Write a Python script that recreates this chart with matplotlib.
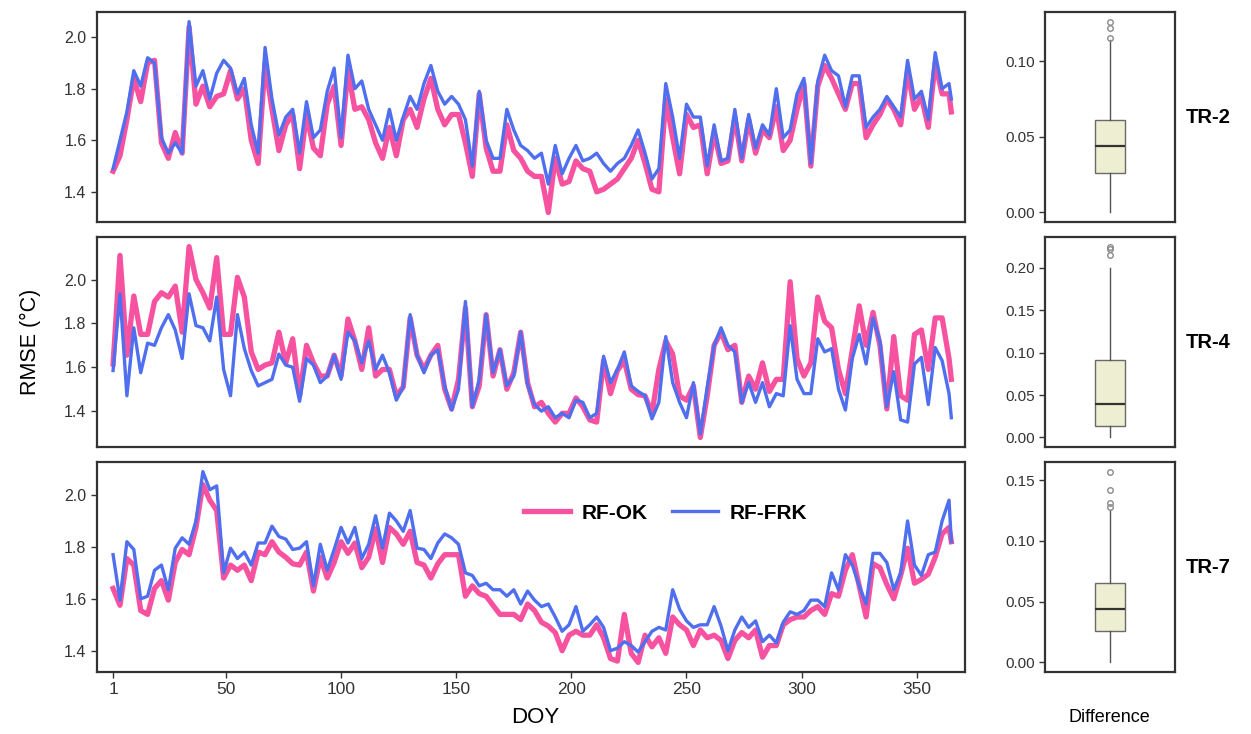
import matplotlib
matplotlib.use("Agg")
import matplotlib.pyplot as plt
import matplotlib.ticker as mtick

plt.rcParams['font.family'] = ['Liberation Sans', 'DejaVu Sans']

# day of year (read every third day off the figure)
doy = list(range(1, 365, 3)) + [365]

tr2_frk = [1.49, 1.60, 1.71, 1.87, 1.81, 1.92, 1.90, 1.61, 1.55, 1.59,
           1.55, 2.06, 1.81, 1.87, 1.76, 1.86, 1.91, 1.88, 1.78, 1.84,
           1.66, 1.55, 1.96, 1.76, 1.62, 1.69, 1.72, 1.55, 1.75, 1.61,
           1.64, 1.79, 1.88, 1.61, 1.93, 1.80, 1.83, 1.72, 1.66, 1.60,
           1.72, 1.60, 1.69, 1.77, 1.72, 1.82, 1.89, 1.79, 1.74, 1.77,
           1.74, 1.68, 1.50, 1.79, 1.60, 1.53, 1.53, 1.72, 1.64, 1.58,
           1.56, 1.53, 1.55, 1.43, 1.58, 1.47, 1.53, 1.58, 1.52, 1.53,
           1.55, 1.51, 1.48, 1.51, 1.53, 1.58, 1.64, 1.55, 1.45, 1.49,
           1.82, 1.69, 1.53, 1.74, 1.69, 1.69, 1.50, 1.66, 1.52, 1.53,
           1.72, 1.53, 1.70, 1.57, 1.66, 1.62, 1.80, 1.61, 1.64, 1.78,
           1.84, 1.51, 1.83, 1.93, 1.87, 1.85, 1.73, 1.85, 1.85, 1.65,
           1.69, 1.72, 1.77, 1.73, 1.69, 1.91, 1.76, 1.79, 1.68, 1.94,
           1.80, 1.82, 1.76]
tr2_ok = [1.48, 1.54, 1.68, 1.84, 1.75, 1.90, 1.91, 1.59, 1.53, 1.63,
          1.55, 2.04, 1.74, 1.81, 1.73, 1.77, 1.78, 1.87, 1.76, 1.80,
          1.60, 1.51, 1.90, 1.72, 1.56, 1.66, 1.70, 1.49, 1.70, 1.57,
          1.54, 1.74, 1.81, 1.58, 1.87, 1.72, 1.73, 1.68, 1.59, 1.53,
          1.65, 1.54, 1.68, 1.72, 1.65, 1.76, 1.84, 1.72, 1.66, 1.70,
          1.70, 1.59, 1.46, 1.78, 1.57, 1.48, 1.48, 1.66, 1.56, 1.53,
          1.48, 1.46, 1.46, 1.32, 1.53, 1.43, 1.44, 1.52, 1.49, 1.48,
          1.40, 1.41, 1.43, 1.45, 1.49, 1.53, 1.60, 1.51, 1.41, 1.40,
          1.76, 1.61, 1.47, 1.70, 1.65, 1.66, 1.47, 1.63, 1.51, 1.52,
          1.69, 1.52, 1.68, 1.55, 1.64, 1.61, 1.73, 1.56, 1.60, 1.72,
          1.82, 1.50, 1.81, 1.89, 1.84, 1.78, 1.72, 1.82, 1.82, 1.61,
          1.66, 1.70, 1.76, 1.72, 1.66, 1.87, 1.72, 1.77, 1.65, 1.90,
          1.78, 1.78, 1.71]

tr4_frk = [1.585, 1.935, 1.47, 1.78, 1.575, 1.71, 1.70, 1.78, 1.84, 1.77,
           1.64, 1.935, 1.79, 1.78, 1.72, 1.92, 1.59, 1.47, 1.84, 1.685,
           1.585, 1.515, 1.53, 1.545, 1.66, 1.61, 1.60, 1.445, 1.64, 1.61,
           1.53, 1.56, 1.655, 1.545, 1.76, 1.72, 1.62, 1.72, 1.59, 1.655,
           1.575, 1.45, 1.51, 1.84, 1.655, 1.575, 1.655, 1.68, 1.515, 1.405,
           1.50, 1.90, 1.42, 1.545, 1.84, 1.575, 1.68, 1.515, 1.56, 1.76,
           1.52, 1.43, 1.40, 1.42, 1.37, 1.39, 1.37, 1.45, 1.44, 1.37,
           1.39, 1.65, 1.53, 1.59, 1.67, 1.515, 1.49, 1.47, 1.365, 1.44,
           1.74, 1.53, 1.44, 1.37, 1.53, 1.295, 1.51, 1.70, 1.78, 1.70,
           1.67, 1.44, 1.53, 1.44, 1.53, 1.42, 1.48, 1.47, 1.79, 1.545,
           1.48, 1.48, 1.73, 1.67, 1.685, 1.50, 1.405, 1.64, 1.75, 1.615,
           1.825, 1.72, 1.42, 1.58, 1.36, 1.35, 1.615, 1.645, 1.43, 1.69,
           1.63, 1.48, 1.37]
tr4_ok = [1.615, 2.11, 1.655, 1.925, 1.75, 1.75, 1.90, 1.94, 1.92, 1.97,
          1.76, 2.15, 2.00, 1.94, 1.87, 2.10, 1.75, 1.75, 2.01, 1.92,
          1.67, 1.59, 1.61, 1.62, 1.76, 1.62, 1.73, 1.47, 1.70, 1.62,
          1.56, 1.56, 1.655, 1.56, 1.82, 1.72, 1.59, 1.78, 1.56, 1.59,
          1.59, 1.47, 1.51, 1.825, 1.655, 1.59, 1.655, 1.70, 1.50, 1.41,
          1.545, 1.87, 1.42, 1.515, 1.84, 1.56, 1.68, 1.50, 1.575, 1.76,
          1.53, 1.42, 1.44, 1.39, 1.35, 1.39, 1.39, 1.46, 1.42, 1.36,
          1.35, 1.63, 1.48, 1.585, 1.63, 1.50, 1.475, 1.47, 1.39, 1.59,
          1.72, 1.66, 1.47, 1.45, 1.515, 1.28, 1.47, 1.70, 1.76, 1.68,
          1.70, 1.44, 1.56, 1.50, 1.62, 1.49, 1.545, 1.545, 1.99, 1.64,
          1.56, 1.62, 1.92, 1.81, 1.78, 1.59, 1.48, 1.68, 1.88, 1.70,
          1.85, 1.70, 1.41, 1.74, 1.47, 1.45, 1.75, 1.77, 1.59, 1.825,
          1.825, 1.64, 1.545]

tr7_frk = [1.77, 1.595, 1.82, 1.79, 1.60, 1.61, 1.71, 1.73, 1.635, 1.795,
           1.835, 1.81, 1.90, 2.09, 2.02, 2.035, 1.70, 1.795, 1.755, 1.78,
           1.73, 1.815, 1.815, 1.88, 1.84, 1.83, 1.79, 1.795, 1.82, 1.65,
           1.81, 1.71, 1.79, 1.875, 1.815, 1.875, 1.755, 1.81, 1.92, 1.795,
           1.93, 1.90, 1.86, 1.94, 1.795, 1.79, 1.755, 1.815, 1.85, 1.835,
           1.81, 1.70, 1.69, 1.65, 1.66, 1.635, 1.635, 1.61, 1.635, 1.58,
           1.63, 1.595, 1.57, 1.58, 1.53, 1.475, 1.50, 1.57, 1.475, 1.50,
           1.53, 1.49, 1.40, 1.41, 1.435, 1.42, 1.395, 1.435, 1.475, 1.49,
           1.48, 1.635, 1.56, 1.515, 1.49, 1.50, 1.50, 1.57, 1.495, 1.40,
           1.48, 1.53, 1.49, 1.515, 1.435, 1.46, 1.43, 1.51, 1.55, 1.54,
           1.555, 1.595, 1.595, 1.57, 1.70, 1.635, 1.77, 1.73, 1.65, 1.58,
           1.775, 1.775, 1.74, 1.635, 1.70, 1.90, 1.73, 1.69, 1.77, 1.78,
           1.90, 1.98, 1.82]
tr7_ok = [1.64, 1.575, 1.755, 1.73, 1.555, 1.54, 1.64, 1.67, 1.595, 1.74,
          1.79, 1.77, 1.875, 2.04, 1.98, 1.94, 1.68, 1.73, 1.71, 1.73,
          1.67, 1.78, 1.77, 1.82, 1.78, 1.76, 1.735, 1.73, 1.78, 1.63,
          1.76, 1.68, 1.74, 1.82, 1.775, 1.815, 1.72, 1.76, 1.87, 1.74,
          1.875, 1.85, 1.81, 1.86, 1.74, 1.73, 1.68, 1.735, 1.77, 1.77,
          1.77, 1.61, 1.65, 1.62, 1.61, 1.575, 1.54, 1.54, 1.54, 1.52,
          1.58, 1.555, 1.51, 1.495, 1.47, 1.40, 1.46, 1.475, 1.46, 1.46,
          1.50, 1.45, 1.37, 1.36, 1.54, 1.39, 1.355, 1.46, 1.415, 1.45,
          1.39, 1.53, 1.50, 1.48, 1.42, 1.48, 1.45, 1.46, 1.44, 1.37,
          1.44, 1.47, 1.45, 1.48, 1.375, 1.42, 1.42, 1.50, 1.52, 1.53,
          1.53, 1.555, 1.57, 1.54, 1.62, 1.61, 1.71, 1.77, 1.65, 1.53,
          1.735, 1.72, 1.655, 1.60, 1.69, 1.795, 1.66, 1.675, 1.695, 1.76,
          1.85, 1.875, 1.82]

sites = ["TR-2", "TR-4", "TR-7"]
ok_series = [tr2_ok, tr4_ok, tr7_ok]
frk_series = [tr2_frk, tr4_frk, tr7_frk]

# boxplot summary of the RF-FRK minus RF-OK difference
box_q1 = [0.026, 0.014, 0.026]
box_med = [0.044, 0.039, 0.044]
box_q3 = [0.061, 0.091, 0.0655]
box_lo = [0.0, 0.0, 0.0]
box_hi = [0.114, 0.200, 0.125]
box_out = [[0.115, 0.122, 0.126],
           [0.215, 0.222, 0.225],
           [0.128, 0.131, 0.142, 0.157]]

pink = '#F652A0'
blue = '#4F6FEF'
edge = '#333333'

fig = plt.figure(figsize=(12.51, 7.34), dpi=100)
bottoms = [0.6975, 0.391, 0.0845]
h = 0.286

def style_frame(ax):
    for sp in ax.spines.values():
        sp.set_linewidth(1.6)
        sp.set_color(edge)
    ax.tick_params(direction='out', length=4, width=1, color=edge,
                   labelcolor='#333333', labelsize=11.5)

for i in range(3):
    ax = fig.add_axes([0.0775, bottoms[i], 0.694, h])
    ax.plot(doy, ok_series[i], color=pink, lw=3.8, label='RF-OK', solid_joinstyle='round')
    ax.plot(doy, frk_series[i], color=blue, lw=2.4, label='RF-FRK', solid_joinstyle='round')
    ax.set_xlim(-6, 371)
    ax.margins(y=0.05)
    ax.yaxis.set_major_locator(mtick.MultipleLocator(0.2))
    ax.yaxis.set_major_formatter(mtick.FormatStrFormatter('%.1f'))
    style_frame(ax)
    if i < 2:
        ax.set_xticks([])
    else:
        ax.set_xticks([1, 50, 100, 150, 200, 250, 300, 350])
        ax.tick_params(axis='x', labelsize=12.5)
        ax.legend(loc='center', bbox_to_anchor=(0.655, 0.757), ncol=2,
                  frameon=False, handlelength=2.2, handletextpad=0.55,
                  columnspacing=1.2, prop={'weight': 'bold', 'size': 15})

    bx = fig.add_axes([0.8353, bottoms[i], 0.1039, h])
    stats = [dict(q1=box_q1[i], med=box_med[i], q3=box_q3[i],
                  whislo=box_lo[i], whishi=box_hi[i], fliers=box_out[i])]
    bx.bxp(stats, positions=[1], widths=0.28, patch_artist=True, showcaps=False,
           boxprops=dict(facecolor='#EEEED2', edgecolor='#6a6a6a', linewidth=1),
           medianprops=dict(color='#333333', linewidth=1.6),
           whiskerprops=dict(color='#555555', linewidth=1),
           flierprops=dict(marker='o', markersize=4, markerfacecolor='none',
                           markeredgecolor='#8a8a8a', markeredgewidth=1))
    bx.set_xlim(0.4, 1.6)
    bx.margins(y=0.05)
    bx.set_xticks([])
    bx.yaxis.set_major_locator(mtick.MultipleLocator(0.05))
    bx.yaxis.set_major_formatter(mtick.FormatStrFormatter('%.2f'))
    style_frame(bx)
    bx.tick_params(labelsize=11)

    fig.text(0.966, bottoms[i] + h / 2, sites[i], ha='center', va='center',
             fontsize=14.5, fontweight='bold')

fig.text(0.024, 0.534, 'RMSE (°C)', rotation=90, ha='center', va='center', fontsize=15.5)
fig.text(0.4277, 0.022, 'DOY', ha='center', va='center', fontsize=16)
fig.text(0.887, 0.022, 'Difference', ha='center', va='center', fontsize=13)

fig.savefig('out.png', dpi=100)
